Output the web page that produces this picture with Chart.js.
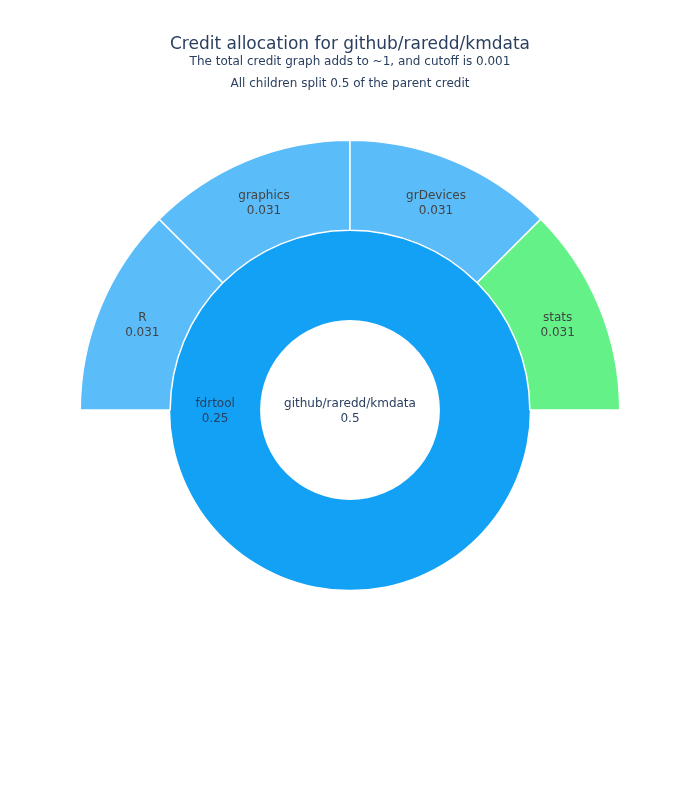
<!DOCTYPE html>
<html>
<head>
<meta charset="utf-8">
<script src="https://cdn.jsdelivr.net/npm/chart.js@4"></script>
<style>
html,body{margin:0;padding:0;background:#fff;}
#wrap{width:700px;height:800px;position:relative;}
</style>
</head>
<body>
<div id="wrap"><canvas id="c" width="700" height="800"></canvas></div>
<script>
// Data
const rootLabel = "github/raredd/kmdata";
const rootValue = 0.5;
const middleLabels = ["fdrtool"];
const middleValues = [0.25];
const outerLabels = ["R", "graphics", "grDevices", "stats"];
const outerValues = [0.03125, 0.03125, 0.03125, 0.03125];
const titleText = "Credit allocation for github/raredd/kmdata";
const subtitleLines = ["The total credit graph adds to ~1, and cutoff is 0.001", "All children split 0.5 of the parent credit"];

const outerColors = ["#5abcf8", "#5abcf8", "#5abcf8", "#64f288"];
const middleColors = ["#13a1f5"];

const outerSum = outerValues.reduce((a, b) => a + b, 0);
const gapValue = middleValues[0] - outerSum;

function fmt(v) { return String(Number(v.toPrecision(2))); }

const FONT = '"DejaVu Sans", Verdana, sans-serif';

const labelPlugin = {
  id: 'sliceLabels',
  afterDatasetsDraw(chart) {
    const ctx = chart.ctx;
    ctx.save();
    ctx.font = '12px ' + FONT;
    ctx.textAlign = 'center';
    ctx.textBaseline = 'middle';
    chart.data.datasets.forEach((ds, di) => {
      const meta = chart.getDatasetMeta(di);
      meta.data.forEach((arc, i) => {
        const name = ds.names[i];
        if (!name) return;
        const p = arc.getProps(['x', 'y', 'startAngle', 'endAngle', 'innerRadius', 'outerRadius'], true);
        let x, y;
        if (p.innerRadius < 1) { x = p.x; y = p.y; }
        else {
          const a = (p.startAngle + p.endAngle) / 2;
          const r = (p.innerRadius + p.outerRadius) / 2;
          x = p.x + Math.cos(a) * r; y = p.y + Math.sin(a) * r;
        }
        ctx.fillStyle = ds.textColor;
        ctx.fillText(name, x, y - 6.5);
        ctx.fillText(fmt(ds.data[i]), x, y + 9);
      });
    });
    ctx.restore();
  }
};

const titlePlugin = {
  id: 'titles',
  afterDraw(chart) {
    const ctx = chart.ctx;
    ctx.save();
    ctx.textAlign = 'center';
    ctx.textBaseline = 'middle';
    ctx.fillStyle = '#2a3f5f';
    ctx.font = '17px ' + FONT;
    ctx.fillText(titleText, 350, 45);
    ctx.font = '12px ' + FONT;
    ctx.fillText(subtitleLines[0], 350, 61.5);
    ctx.fillText(subtitleLines[1], 350, 83.5);
    ctx.restore();
  }
};

new Chart(document.getElementById('c'), {
  type: 'doughnut',
  data: {
    labels: outerLabels.concat([""]),
    datasets: [
      {
        data: outerValues.concat([gapValue]),
        names: outerLabels.concat([null]),
        backgroundColor: outerColors.concat(["rgba(0,0,0,0)"]),
        borderColor: outerColors.map(() => "#ffffff").concat(["rgba(0,0,0,0)"]),
        borderWidth: 1.5,
        rotation: -90,
        textColor: '#444'
      },
      {
        data: middleValues,
        names: middleLabels,
        backgroundColor: middleColors,
        borderColor: middleColors,
        borderWidth: 0,
        rotation: 90,
        textColor: '#2a3f5f'
      },
      {
        data: [rootValue],
        names: [rootLabel],
        backgroundColor: "#ffffff",
        borderColor: "#ffffff",
        borderWidth: 0,
        textColor: '#2a3f5f'
      }
    ]
  },
  options: {
    responsive: false,
    animation: false,
    cutout: 0,
    layout: { padding: { left: 79.5, right: 79.5, top: 139.5, bottom: 119.5 } },
    plugins: {
      legend: { display: false },
      tooltip: { enabled: false },
      title: { display: false }
    },
    events: []
  },
  plugins: [labelPlugin, titlePlugin]
});
</script>
</body>
</html>
